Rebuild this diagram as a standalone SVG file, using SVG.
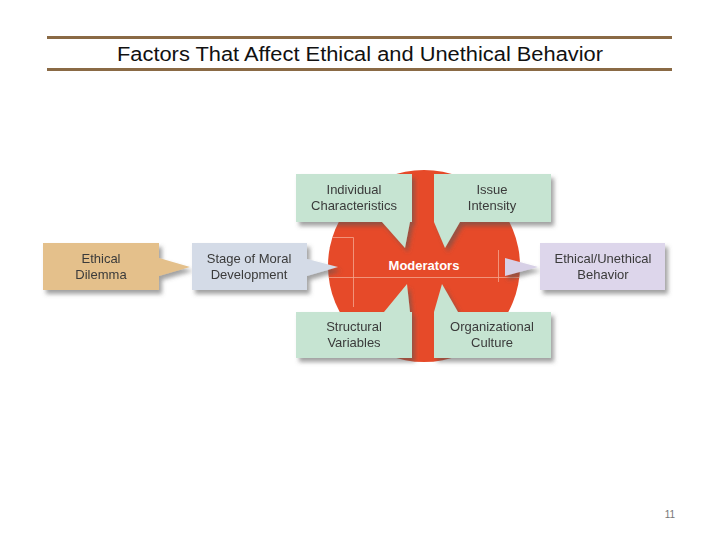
<svg xmlns="http://www.w3.org/2000/svg" width="720" height="540" viewBox="0 0 720 540">
<defs>
<filter id="sh" x="-20%" y="-20%" width="150%" height="160%">
<feDropShadow dx="3" dy="4" stdDeviation="2" flood-color="#555" flood-opacity="0.55"/>
</filter>
<clipPath id="cc"><circle cx="424" cy="266" r="96"/></clipPath>
</defs>
<style>
.t{font-family:"Liberation Sans",Arial,sans-serif;font-size:13px;fill:#3a3a3a;text-anchor:middle}
.rule{stroke:#8a6a45;stroke-width:3}
.fl{stroke:#f4a58e;stroke-width:1;fill:none;opacity:0.8}
</style>
<rect width="720" height="540" fill="#fff"/>
<g id="title">
<line class="rule" x1="47" y1="37.5" x2="672" y2="37.5"/>
<line class="rule" x1="47" y1="69.5" x2="672" y2="69.5"/>
<text x="360" y="61" font-family="'Liberation Sans',Arial,sans-serif" font-size="20" fill="#111" text-anchor="middle" textLength="486" lengthAdjust="spacingAndGlyphs">Factors That Affect Ethical and Unethical Behavior</text>
</g>
<g id="moderators">
<circle cx="424" cy="266" r="96" fill="#e64a29"/>
<path class="fl" clip-path="url(#cc)" d="M300 237.5H353.5V307M300 277.5H545M498.5 250V282"/>
<text x="424" y="270" font-family="'Liberation Sans',Arial,sans-serif" font-size="13" font-weight="bold" fill="#fff" text-anchor="middle">Moderators</text>
</g>
<g id="connectors" filter="url(#sh)">
<polygon points="505,258 505,276 538,267" fill="#d7d0e6"/>
</g>
<g id="individual" filter="url(#sh)">
<path d="M296 174H412V222H410L405 248L382 222H296Z" fill="#c6e4d2"/>
<text class="t" x="354" y="194">Individual</text>
<text class="t" x="354" y="210">Characteristics</text>
</g>
<g id="issue" filter="url(#sh)">
<path d="M434 174H551V222H460L445 248L434 222Z" fill="#c6e4d2"/>
<text class="t" x="492" y="194">Issue</text>
<text class="t" x="492" y="210">Intensity</text>
</g>
<g id="structural" filter="url(#sh)">
<path d="M296 312H384L407 284L410 312H412V358H296Z" fill="#c6e4d2"/>
<text class="t" x="354" y="331">Structural</text>
<text class="t" x="354" y="347">Variables</text>
</g>
<g id="organizational" filter="url(#sh)">
<path d="M434 312L442 284L458 312H551V358H434Z" fill="#c6e4d2"/>
<text class="t" x="492" y="331">Organizational</text>
<text class="t" x="492" y="347">Culture</text>
</g>
<g id="dilemma" filter="url(#sh)">
<path d="M43 243H159V258L190 267L159 276V290H43Z" fill="#e4c08b"/>
<text class="t" x="101" y="263">Ethical</text>
<text class="t" x="101" y="279">Dilemma</text>
</g>
<g id="stage" filter="url(#sh)">
<path d="M192 243H307V259L338 267L307 276V290H192Z" fill="#d4dbe7"/>
<text class="t" x="249" y="263">Stage of Moral</text>
<text class="t" x="249" y="279">Development</text>
</g>
<g id="behavior" filter="url(#sh)">
<rect x="540" y="243" width="125" height="47" fill="#ddd6eb"/>
<text class="t" x="603" y="263">Ethical/Unethical</text>
<text class="t" x="603" y="279">Behavior</text>
</g>
<text x="670" y="518" font-family="'Liberation Sans',Arial,sans-serif" font-size="10" fill="#777" text-anchor="middle">11</text>
</svg>
